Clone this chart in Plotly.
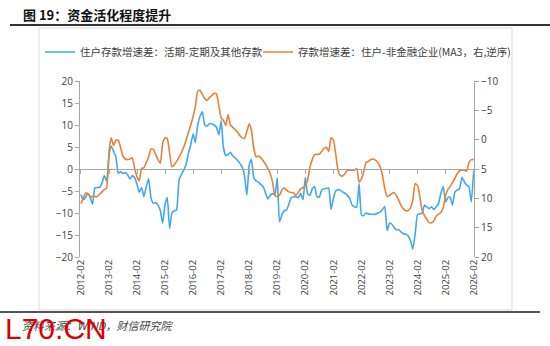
import pandas as pd
import plotly.graph_objects as go

# Monthly observations, 2012-02 ... 2026-02
dates = pd.date_range("2012-02-01", periods=169, freq="MS")

# 住户存款增速差：活期-定期及其他存款 (left axis, %)
blue = [
    -5.8, -7.0, -6.5, -5.5, -6.5, -8.0, -4.3, -4.2, -4.2, -3.2, -1.5, -2.8,
    3.0, 5.2, 4.0, 2.8, -1.0, -0.6, -1.0, -0.8, -1.3, -2.3, -1.5, -2.0,
    -3.5, -5.3, -4.2, -6.3, -4.0, -2.2, -6.5, -7.8, -7.6, -8.2, -9.5, -12.3,
    -8.0, -6.5, -13.5, -10.0, -9.5, -9.3, -2.5, -1.2, -0.3, 1.0, 3.5, 5.5,
    8.0, 6.0, 10.0, 12.0, 13.0, 10.0, 9.8, 10.3, 10.3, 10.0, 9.5, 7.8,
    11.0, 5.0, 3.0, 3.3, 3.8, 3.0, 2.5, 2.0, 1.3, 0.5, -1.5, -6.0,
    1.0, 2.2, -2.0, -2.7, -3.0, -3.5, -4.0, -5.5, -6.8, -6.0, -5.6, -5.8,
    -2.0, -12.0, -10.5, -9.5, -9.3, -8.0, -6.5, -6.3, -6.3, -6.5, -5.6, -7.0,
    -1.9, -5.6, -6.0, -4.5, -4.0, -6.3, -6.4, -4.8, -4.5, -4.4, -4.3, -9.2,
    -6.7, -5.0, -4.7, -4.8, -5.2, -5.5, -6.0, -6.7, -8.2, -8.6, -8.7, -3.3,
    -10.5, -10.6, -10.0, -10.2, -10.3, -10.3, -10.3, -10.0, -9.8, -9.2, -8.5, -14.0,
    -12.3, -12.5, -13.3, -13.8, -13.8, -14.3, -14.7, -14.8, -15.2, -16.3, -18.2, -14.8,
    -10.3, -10.2, -10.1, -8.2, -8.6, -9.0, -8.6, -9.2, -8.6, -7.8, -5.5, -4.0,
    -7.5, -6.5, -6.4, -8.2, -5.2, -4.8, -4.5, -1.9, -2.9, -3.7, -4.0, -7.5,
    -0.5,
]

# 存款增速差：住户-非金融企业 (MA3, right axis, reversed, %)
orange = [
    10.9, 10.0, 9.1, 9.2, 9.7, 9.7, 9.7, 9.7, 9.3, 8.9, 8.5, 8.2,
    2.0, -0.3, 1.0, 0.1, 0.1, 1.3, 2.8, 3.3, 3.4, 3.3, 3.1, 4.9,
    6.4, 7.0, 4.9, 4.8, 3.9, 3.0, 1.6, 1.6, 2.5, 3.4, 4.0, 0.6,
    -0.3, -0.2, 2.3, 4.6, 4.3, 3.7, 3.0, 2.2, 1.3, 0.1, -1.2, -2.5,
    -3.9, -5.7, -8.3, -8.4, -7.7, -7.0, -6.7, -7.2, -7.5, -7.9, -7.8, -5.7,
    -3.7, -3.3, -2.4, -4.3, -2.5, -2.1, -1.7, -1.3, -0.7, -0.3, -0.2, -1.4,
    -2.7, -1.6, 1.5, 2.9, 2.8, 3.1, 3.6, 4.2, 4.9, 5.8, 7.2, 9.5,
    9.7, 9.5, 8.6, 8.2, 8.6, 8.9, 9.0, 9.1, 9.5, 9.0, 8.4, 8.2,
    7.8, 6.9, 4.7, 3.4, 2.6, 2.5, 2.5, 2.0, 1.5, 1.3, 2.0, -0.3,
    0.1, 2.3, 5.2, 6.1, 6.2, 5.8, 5.2, 5.2, 5.2, 5.2, 4.9, 7.2,
    6.7, 5.6, 3.9, 3.7, 3.4, 3.3, 3.5, 3.9, 4.6, 6.1, 8.3, 9.7,
    9.5, 9.2, 9.0, 9.5, 10.3, 11.2, 11.8, 12.1, 12.1, 11.6, 10.3, 7.5,
    7.8, 9.7, 12.1, 12.9, 13.6, 14.1, 14.2, 13.8, 13.0, 12.7, 12.4, 11.5,
    9.5, 8.5, 8.0, 7.3, 6.6, 5.8, 5.3, 5.2, 5.2, 5.4, 3.9, 3.4,
    3.4,
]

tick_dates = ["2012-02-01", "2013-02-01", "2014-02-01", "2015-02-01", "2016-02-01",
              "2017-02-01", "2018-02-01", "2019-02-01", "2020-02-01", "2021-02-01",
              "2022-02-01", "2023-02-01", "2024-02-01", "2025-02-01", "2026-02-01"]
tick_labels = ["2012-02", "2013-02", "2014-02", "2015-02", "2016-02", "2017-02",
               "2018-02", "2019-02", "2020-02", "2021-02", "2022-02", "2023-02",
               "2024-02", "2025-02", "2026-02"]

name_blue = "住户存款增速差：活期-定期及其他存款"
name_orange = "存款增速差：住户-非金融企业(MA3，右,逆序)"

BLUE = "#42A8EC"
ORANGE = "#E8803A"
AXC = "#A6A6A6"
TXT = "#404040"
CJK = "Noto Sans CJK SC"

fig = go.Figure()
fig.add_trace(go.Scatter(x=dates, y=blue, name=name_blue, mode="lines",
                         line=dict(color=BLUE, width=1.6, shape="spline", smoothing=0.4),
                         xaxis="x", yaxis="y", legend="legend"))
fig.add_trace(go.Scatter(x=dates, y=orange, name=name_orange, mode="lines",
                         line=dict(color=ORANGE, width=1.6, shape="spline", smoothing=0.5),
                         xaxis="x2", yaxis="y2", legend="legend2"))

xr = ["2012-01-20", "2026-02-05"]
L, R, T, B = 80, 76, 81, 89
W, H = 550, 346
pw, ph = W - L - R, H - T - B


def px(xp):
    return (xp - L) / pw


def py(yp):
    return (H - B - yp) / ph


leg_common = dict(orientation="h", yanchor="middle", xanchor="left",
                  font=dict(family=CJK, size=10.5, color=TXT),
                  bgcolor="rgba(0,0,0,0)", itemwidth=30, borderwidth=0)

fig.update_layout(
    width=W, height=H,
    margin=dict(l=L, r=R, t=T, b=B, pad=0),
    paper_bgcolor="white", plot_bgcolor="white",
    showlegend=True,
    legend=dict(x=px(40), y=py(52), **leg_common),
    legend2=dict(x=px(258), y=py(52), **leg_common),
    xaxis=dict(range=xr, tickvals=tick_dates, ticktext=tick_labels, tickangle=-90,
               showline=False, ticks="", showgrid=False, zeroline=False,
               tickfont=dict(family="Open Sans", size=9.5, color=TXT)),
    xaxis2=dict(range=xr, overlaying="x", anchor="free", position=0.5,
                tickvals=tick_dates, showticklabels=False, showline=True,
                linecolor=AXC, linewidth=1, ticks="outside", ticklen=4,
                tickcolor=AXC, showgrid=False, zeroline=False),
    yaxis=dict(range=[-20, 20], dtick=5, showline=True, linecolor=AXC, linewidth=1,
               ticks="outside", ticklen=4, tickcolor=AXC, showgrid=False, zeroline=False,
               tickfont=dict(family="Open Sans", size=10, color=TXT)),
    yaxis2=dict(range=[20, -10], dtick=5, overlaying="y", side="right", anchor="x",
                showline=True, linecolor=AXC, linewidth=1, ticks="outside", ticklen=4,
                tickcolor=AXC, showgrid=False, zeroline=False,
                tickfont=dict(family="Open Sans", size=10, color=TXT)),
    shapes=[
        dict(type="rect", xref="paper", yref="paper", x0=px(39), x1=px(512),
             y0=py(28), y1=py(310), line=dict(color="#D9D9D9", width=1), layer="below"),
        dict(type="line", xref="paper", yref="paper", x0=px(10), x1=px(552),
             y0=py(25), y1=py(25), line=dict(color="#333333", width=2)),
        dict(type="line", xref="paper", yref="paper", x0=px(0), x1=px(540),
             y0=py(312), y1=py(312), line=dict(color="#555555", width=2)),
    ],
    annotations=[
        dict(text="<b>图 19：资金活化程度提升</b>", xref="paper", yref="paper",
             x=px(21), y=py(14), xanchor="left", yanchor="middle", showarrow=False,
             font=dict(family=CJK, size=13, color="#111111")),
        dict(text="<i>资料来源：WIND，财信研究院</i>", xref="paper", yref="paper",
             x=px(20), y=py(325), xanchor="left", yanchor="middle", showarrow=False,
             font=dict(family=CJK, size=11, color="#444444")),
        dict(text="L70.CN", xref="paper", yref="paper",
             x=px(3), y=py(328), xanchor="left", yanchor="middle", showarrow=False,
             font=dict(family="Liberation Sans", size=30, color="#E00000")),
    ],
)

fig.write_html("out.html")
